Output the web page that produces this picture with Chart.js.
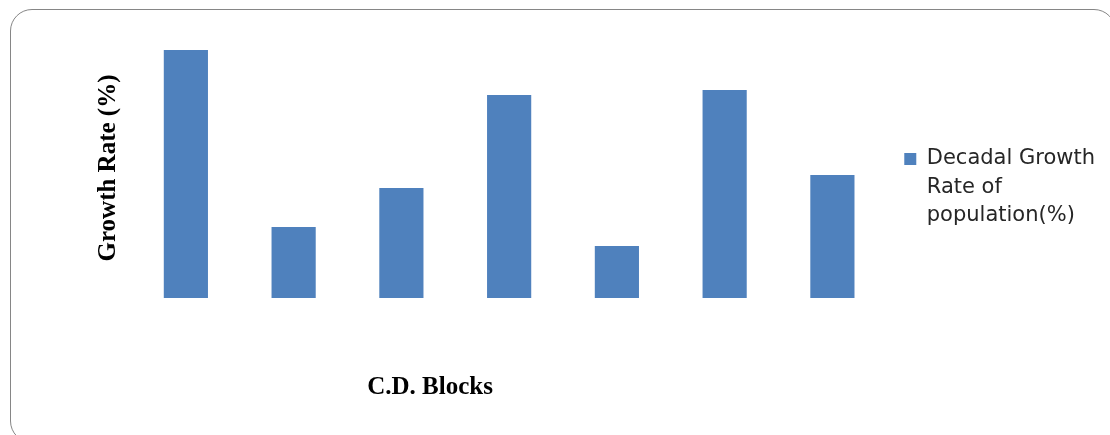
<!DOCTYPE html>
<html>
<head>
<meta charset="utf-8">
<script src="https://cdn.jsdelivr.net/npm/chart.js@4"></script>
<style>
  html, body { margin: 0; padding: 0; background: #fff; overflow: hidden; }
  #wrap { position: relative; width: 1110px; height: 435px; }
  #frame {
    position: absolute; left: 10px; top: 9px; width: 1106px; height: 434px;
    border: 1.5px solid #868686; border-radius: 22px; box-sizing: border-box;
  }
  canvas { position: absolute; left: 0; top: 0; }
</style>
</head>
<body>
<div id="wrap">
  <div id="frame"></div>
  <canvas id="chart" width="1110" height="435"></canvas>
</div>
<script>
// C.D. blocks (names are not printed on the axis)
const blocks = ['Block 1', 'Block 2', 'Block 3', 'Block 4', 'Block 5', 'Block 6', 'Block 7'];
// Decadal growth rate of population (%)
const growthRate = [24.8, 7.1, 11.0, 20.3, 5.2, 20.8, 12.3];
// Legend text, one entry per line
const legendLines = ['Decadal Growth', 'Rate of', 'population(%)'];
const xTitle = 'C.D. Blocks';
const yTitle = 'Growth Rate (%)';

const barColor = '#4f81bd';
const legendTextColor = '#262626';

// Draws the category-axis title below the plot
const xTitlePlugin = {
  id: 'xTitle',
  afterDraw(chart) {
    const { ctx, chartArea } = chart;
    ctx.save();
    ctx.font = 'bold 25px "Liberation Serif", "Times New Roman", serif';
    ctx.fillStyle = '#000';
    ctx.textAlign = 'center';
    ctx.textBaseline = 'middle';
    ctx.fillText(xTitle, chartArea.left + 298, chartArea.bottom + 90);
    ctx.restore();
  }
};

new Chart(document.getElementById('chart'), {
  type: 'bar',
  data: {
    labels: blocks,
    datasets: [{
      label: legendLines.join(' '),
      data: growthRate,
      backgroundColor: barColor,
      borderWidth: 0,
      barPercentage: 0.41,
      categoryPercentage: 1.0
    }]
  },
  options: {
    responsive: false,
    animation: false,
    layout: { padding: { left: 91, right: 5, top: 38, bottom: 137 } },
    plugins: {
      tooltip: { enabled: false },
      legend: {
        position: 'right',
        maxWidth: 219,
        title: { display: true, text: '', padding: { top: 0, bottom: 32 } },
        labels: {
          boxWidth: 12,
          boxHeight: 12,
          padding: 18,
          color: legendTextColor,
          font: { family: 'DejaVu Sans', size: 21, lineHeight: 1.357 },
          generateLabels: () => [{
            text: legendLines,
            fillStyle: barColor,
            strokeStyle: barColor,
            fontColor: legendTextColor,
            lineWidth: 0,
            hidden: false,
            datasetIndex: 0
          }]
        }
      }
    },
    scales: {
      x: { display: false },
      y: {
        min: 0,
        max: 26,
        ticks: { display: false },
        grid: { display: false },
        border: { display: false },
        title: {
          display: true,
          text: yTitle,
          color: '#000',
          font: { family: 'Liberation Serif', size: 25, weight: 'bold', lineHeight: 1.2 },
          padding: { top: 3, bottom: 0 }
        }
      }
    }
  },
  plugins: [xTitlePlugin]
});
</script>
</body>
</html>
